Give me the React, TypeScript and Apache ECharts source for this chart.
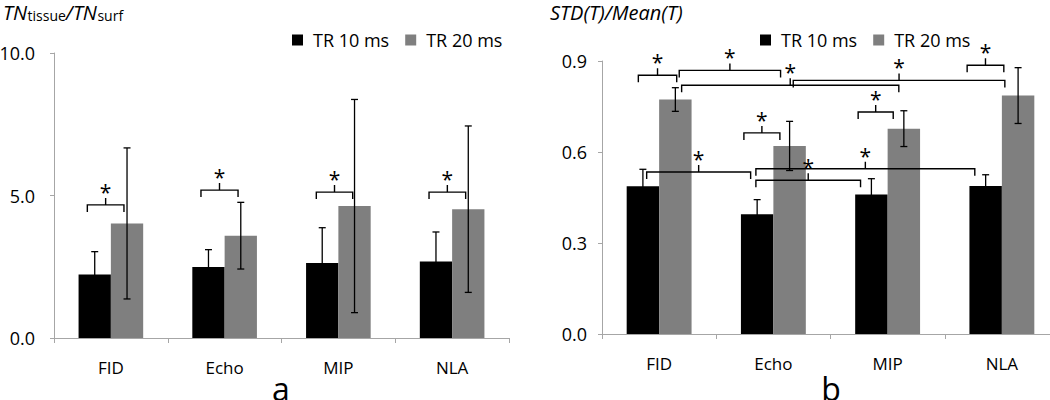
import React, { useEffect, useRef } from "react";
import * as echarts from "echarts";

const categories = ["FID", "Echo", "MIP", "NLA"];
const seriesNames = ["TR 10 ms", "TR 20 ms"];

// Panel a: TN_tissue / TN_surf
const tr10A = [2.23, 2.49, 2.63, 2.68];
const tr10ErrA = [0.8, 0.61, 1.24, 1.04];
const tr20A = [4.02, 3.59, 4.63, 4.52];
const tr20ErrA = [2.65, 1.17, 3.74, 2.92];

// Panel b: STD(T) / Mean(T)
const tr10B = [0.487, 0.395, 0.46, 0.488];
const tr10ErrB = [0.056, 0.048, 0.052, 0.037];
const tr20B = [0.773, 0.62, 0.677, 0.786];
const tr20ErrB = [0.039, 0.081, 0.059, 0.092];

// Significance brackets: [from, to, level] in category-index units
const bracketsA = [
  [-0.207, 0.115, 4.67],
  [0.792, 1.118, 5.19],
  [1.806, 2.126, 5.12],
  [2.797, 3.119, 5.12],
];
const bracketsB = [
  [-0.182, 0.154, 0.853],
  [0.176, 1.063, 0.869],
  [0.197, 2.098, 0.82],
  [1.174, 3.026, 0.836],
  [2.696, 3.017, 0.886],
  [1.742, 2.049, 0.732],
  [0.742, 1.057, 0.663],
  [-0.109, 0.801, 0.534],
  [0.847, 2.763, 0.545],
  [0.847, 1.763, 0.507],
];

// y-axis title of panel a: [text, isSubscript]
const titleAParts: [string, boolean][] = [
  ["TN", false],
  ["tissue", true],
  ["/TN", false],
  ["surf", true],
];

const BAR_FRACTION = 0.284;
const FONT_NAME = "Open Sans";
const FONT = "'Open Sans', sans-serif";
const AXIS_COLOR = "#a6a6a6";

function errData(means: number[], errs: number[], offset: number) {
  return means.map((m, i) => [i + offset, m - errs[i], m + errs[i]]);
}

const errRender = (params: any, api: any) => {
  const x = api.value(0);
  const lo = api.coord([x, api.value(1)]);
  const hi = api.coord([x, api.value(2)]);
  const cap = 3.5;
  const st = { stroke: "#000", lineWidth: 1.3 };
  return {
    type: "group",
    children: [
      { type: "line", shape: { x1: hi[0], y1: hi[1], x2: lo[0], y2: lo[1] }, style: st },
      { type: "line", shape: { x1: hi[0] - cap, y1: hi[1], x2: hi[0] + cap, y2: hi[1] }, style: st },
      { type: "line", shape: { x1: lo[0] - cap, y1: lo[1], x2: lo[0] + cap, y2: lo[1] }, style: st },
    ],
  };
};

const bracketRender = (params: any, api: any) => {
  const p1 = api.coord([api.value(0), api.value(2)]);
  const p2 = api.coord([api.value(1), api.value(2)]);
  const y = p1[1];
  const xm = (p1[0] + p2[0]) / 2;
  const LEG = 7;
  const TIP = 7;
  return {
    type: "group",
    children: [
      {
        type: "polyline",
        shape: {
          points: [
            [p1[0], y + LEG],
            [p1[0], y],
            [xm, y],
            [xm, y - TIP],
            [xm, y],
            [p2[0], y],
            [p2[0], y + LEG],
          ],
        },
        style: { stroke: "#000", lineWidth: 1.4, fill: "none" },
      },
      {
        type: "text",
        x: xm,
        y: y - TIP - 6,
        style: {
          text: "*",
          fontSize: 21,
          fontFamily: FONT,
          fill: "#000",
          align: "center",
          verticalAlign: "middle",
        },
      },
    ],
  };
};

function panelSeries(
  gi: number,
  m10: number[],
  e10: number[],
  m20: number[],
  e20: number[],
  brackets: number[][]
) {
  const catX = gi * 2;
  const valX = gi * 2 + 1;
  const half = BAR_FRACTION / 2;
  return [
    {
      name: seriesNames[0],
      type: "bar",
      xAxisIndex: catX,
      yAxisIndex: gi,
      data: m10,
      barWidth: BAR_FRACTION * 100 + "%",
      barGap: "0%",
      itemStyle: { color: "#000000" },
    },
    {
      name: seriesNames[1],
      type: "bar",
      xAxisIndex: catX,
      yAxisIndex: gi,
      data: m20,
      barWidth: BAR_FRACTION * 100 + "%",
      barGap: "0%",
      itemStyle: { color: "#7f7f7f" },
    },
    {
      type: "custom",
      xAxisIndex: valX,
      yAxisIndex: gi,
      data: errData(m10, e10, -half),
      renderItem: errRender,
      clip: false,
      z: 5,
    },
    {
      type: "custom",
      xAxisIndex: valX,
      yAxisIndex: gi,
      data: errData(m20, e20, half),
      renderItem: errRender,
      clip: false,
      z: 5,
    },
    {
      type: "custom",
      xAxisIndex: valX,
      yAxisIndex: gi,
      data: brackets,
      renderItem: bracketRender,
      clip: false,
      z: 6,
    },
  ];
}

function catAxis(gi: number) {
  return {
    type: "category",
    gridIndex: gi,
    data: categories,
    axisLine: { onZero: false, lineStyle: { color: AXIS_COLOR, width: 1 } },
    axisTick: { show: true, length: 5, lineStyle: { color: AXIS_COLOR } },
    axisLabel: {
      color: "#000",
      fontSize: 17,
      fontFamily: FONT,
      margin: 20,
      lineHeight: 18,
    },
  };
}

function valXAxis(gi: number) {
  return { type: "value", gridIndex: gi, min: -0.5, max: 3.5, show: false };
}

function yAx(gi: number, max: number, interval: number, margin: number) {
  return {
    type: "value",
    gridIndex: gi,
    min: 0,
    max,
    interval,
    splitLine: { show: false },
    axisLine: { show: true, onZero: false, lineStyle: { color: AXIS_COLOR, width: 1 } },
    axisTick: { show: true, length: 4, lineStyle: { color: AXIS_COLOR } },
    axisLabel: {
      color: "#000",
      fontSize: 18,
      fontFamily: FONT,
      margin,
      formatter: (v: number) => v.toFixed(1),
    },
  };
}

function legendAt(left: number) {
  return {
    left,
    top: 26,
    orient: "horizontal",
    icon: "rect",
    itemWidth: 11,
    itemHeight: 11,
    itemGap: 16,
    selectedMode: false,
    data: seriesNames,
    textStyle: { color: "#000", fontSize: 18, fontFamily: FONT, lineHeight: 18, padding: [0, 0, 0, 5] },
  };
}

function buildTitleA() {
  const ctx = document.createElement("canvas").getContext("2d");
  const MAIN = 20;
  const SUB = 14;
  const BASE = 20;
  let x = 3;
  const out: any[] = [];
  titleAParts.forEach(([t, sub]) => {
    const fs = sub ? SUB : MAIN;
    const style = sub ? "normal" : "italic";
    let w = t.length * fs * 0.55;
    if (ctx) {
      ctx.font = `${style} ${fs}px '${FONT_NAME}'`;
      w = ctx.measureText(t).width;
    }
    out.push({
      type: "text",
      x,
      y: (sub ? BASE + 1 : BASE) - 0.388 * fs,
      style: {
        text: t,
        fontSize: fs,
        fontStyle: style,
        fontFamily: FONT,
        fill: "#000",
        align: "left",
        verticalAlign: "middle",
      },
    });
    x += w + (sub ? 0 : 0.5);
  });
  return out;
}

export default function App() {
  const ref = useRef<HTMLDivElement>(null);
  useEffect(() => {
    if (!ref.current) return;
    const chart = echarts.init(ref.current, null, { renderer: "svg" });
    chart.setOption({
      animation: false,
      backgroundColor: "#ffffff",
      grid: [
        { left: 54, right: 541, top: 53, bottom: 62, outerBoundsMode: "none" },
        { left: 602, right: -9, top: 61, bottom: 66, outerBoundsMode: "none" },
      ],
      xAxis: [catAxis(0), valXAxis(0), catAxis(1), valXAxis(1)],
      yAxis: [yAx(0, 10, 5, 19), yAx(1, 0.9, 0.3, 15)],
      legend: [legendAt(287), legendAt(755)],
      series: [
        ...panelSeries(0, tr10A, tr10ErrA, tr20A, tr20ErrA, bracketsA),
        ...panelSeries(1, tr10B, tr10ErrB, tr20B, tr20ErrB, bracketsB),
      ],
      graphic: [
        ...buildTitleA(),
        {
          type: "text",
          x: 550,
          y: 12.5,
          style: {
            text: "STD(T)/Mean(T)",
            fontSize: 20,
            fontStyle: "italic",
            fontFamily: FONT,
            fill: "#000",
            align: "left",
            verticalAlign: "middle",
          },
        },
        {
          type: "text",
          x: 281,
          y: 388,
          style: { text: "a", fontSize: 32, fontFamily: FONT, fill: "#000", align: "center", verticalAlign: "middle" },
        },
        {
          type: "text",
          x: 831,
          y: 388,
          style: { text: "b", fontSize: 32, fontFamily: FONT, fill: "#000", align: "center", verticalAlign: "middle" },
        },
      ],
    });
    return () => chart.dispose();
  }, []);
  return (
    <div
      ref={ref}
      style={{ position: "absolute", left: 0, top: 0, width: 1050, height: 400 }}
    />
  );
}
